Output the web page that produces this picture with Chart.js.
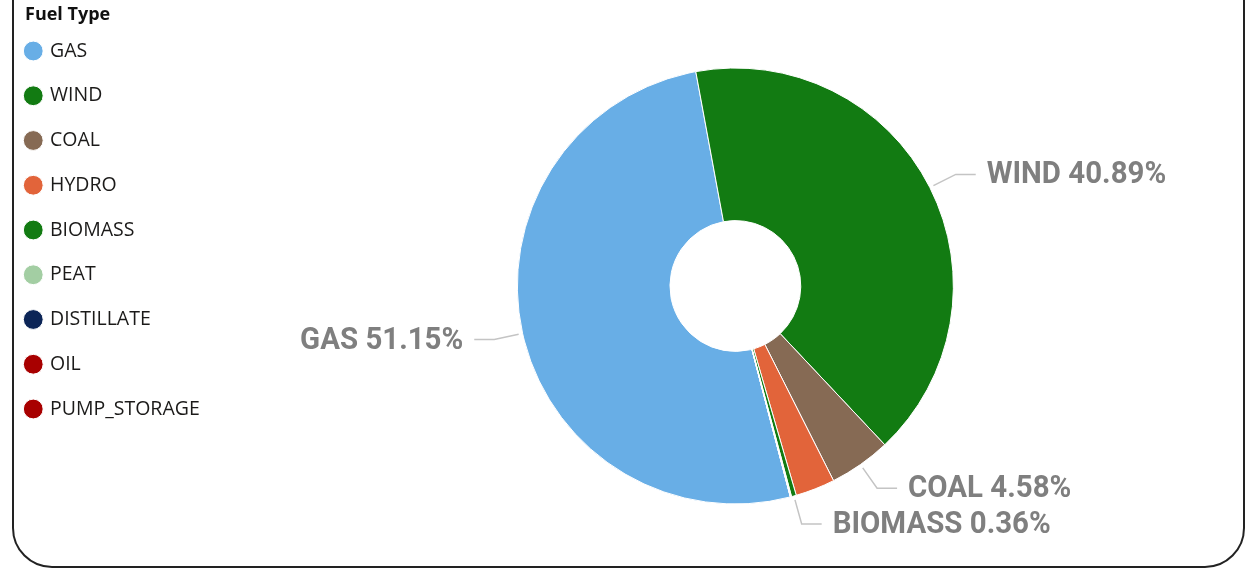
<!DOCTYPE html>
<html>
<head>
<meta charset="utf-8">
<script src="https://cdn.jsdelivr.net/npm/chart.js@4"></script>
<style>
  html, body { margin: 0; padding: 0; background: #fff; }
  body { width: 1256px; height: 569px; position: relative; overflow: hidden; }
  .card { position: absolute; left: 12px; width: 1229px; top: -60px; bottom: 1px;
          border: 2px solid #222; border-radius: 40px; }
  #grafico { position: absolute; left: 0; top: 0; }
</style>
</head>
<body>
<div class="card"></div>
<canvas id="grafico" width="1261" height="569"></canvas>
<script>
const fuelTypes = ['GAS', 'WIND', 'COAL', 'HYDRO', 'BIOMASS', 'PEAT', 'DISTILLATE', 'OIL', 'PUMP_STORAGE'];
const shares = [51.15, 40.89, 4.58, 2.93, 0.36, 0.07, 0.01, 0.01, 0.00];
const cores = ['#68AEE6', '#127B12', '#866A54', '#E2643A', '#127B12', '#A3CEA3', '#0C2557', '#A80000', '#A80000'];
const rotulos = ['GAS', 'WIND', 'COAL', 'BIOMASS'];
const tituloLegenda = 'Fuel Type';

// rotulos externos com linha guia, estilo Power BI
const rotulosExternos = {
  id: 'rotulosExternos',
  afterDatasetsDraw(chart) {
    const ctx = chart.ctx;
    const meta = chart.getDatasetMeta(0);
    meta.data.forEach((arc, i) => {
      if (!rotulos.includes(fuelTypes[i])) return;
      const { x, y, startAngle, endAngle, outerRadius } = arc.getProps(['x', 'y', 'startAngle', 'endAngle', 'outerRadius'], true);
      const meio = (startAngle + endAngle) / 2;
      const cos = Math.cos(meio), sin = Math.sin(meio);
      const x0 = x + cos * (outerRadius + 4), y0 = y + sin * (outerRadius + 4);
      const x1 = x + cos * (outerRadius + 29), y1 = y + sin * (outerRadius + 29);
      const dir = cos >= 0 ? 1 : -1;
      const x2 = x1 + dir * 20;

      ctx.save();
      ctx.strokeStyle = '#c4c4c4';
      ctx.lineWidth = 1.5;
      ctx.beginPath();
      ctx.moveTo(x0, y0);
      ctx.lineTo(x1, y1);
      ctx.lineTo(x2, y1);
      ctx.stroke();

      const texto = fuelTypes[i] + ' ' + shares[i].toFixed(2) + '%';
      ctx.font = 'bold 32px Roboto';
      ctx.fillStyle = '#7f7f7f';
      ctx.textBaseline = 'middle';
      const escala = 0.92;
      const largura = ctx.measureText(texto).width * escala;
      const tx = dir > 0 ? x2 + 11 : x2 - 11 - largura;
      ctx.translate(tx, y1 + 1);
      ctx.scale(escala, 1);
      ctx.textAlign = 'left';
      ctx.fillText(texto, 0, 0);
      ctx.restore();
    });

    // titulo da legenda
    ctx.save();
    ctx.font = 'bold 18px "Open Sans"';
    ctx.fillStyle = '#111';
    ctx.textBaseline = 'middle';
    ctx.fillText(tituloLegenda, 25, 15);
    ctx.restore();
  }
};

const ctx = document.getElementById('grafico').getContext('2d');

const chart = new Chart(ctx, {
  type: 'doughnut',
  data: {
    labels: fuelTypes,
    datasets: [{
      data: shares,
      backgroundColor: cores,
      borderColor: '#ffffff',
      borderWidth: 1,
      radius: 218,
      cutout: '30%',
      rotation: 165.4
    }]
  },
  options: {
    responsive: false,
    animation: false,
    layout: { padding: { left: 1, right: 0, top: 16, bottom: 13 } },
    plugins: {
      legend: {
        position: 'left',
        align: 'start',
        labels: {
          usePointStyle: true,
          pointStyle: 'circle',
          boxWidth: 14,
          boxHeight: 14,
          padding: 25.25,
          color: '#1b1a19',
          font: { family: 'Open Sans', size: 19.5 }
        }
      },
      tooltip: { enabled: false }
    }
  },
  plugins: [rotulosExternos]
});
</script>
</body>
</html>
